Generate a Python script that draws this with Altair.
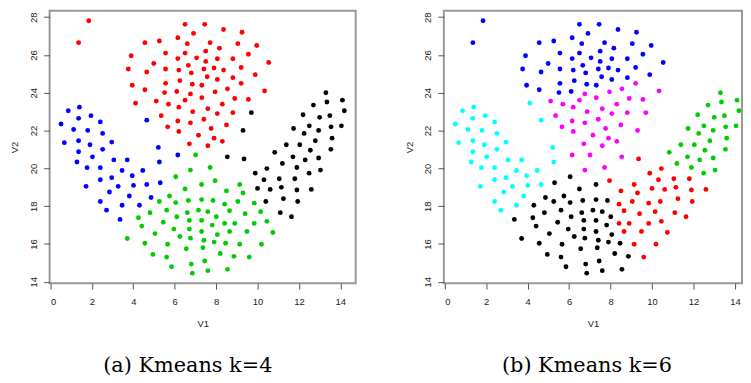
import altair as alt
import pandas as pd

# k-means (k=4) cluster "top" (red); k6 code for each point
top_v1 = [1.85, 1.36, 3.90, 4.56, 5.26, 6.15, 6.50, 5.56, 6.50, 4.99, 6.15, 3.76, 4.65, 5.56, 6.20, 3.95, 5.56, 6.25, 4.56, 5.51, 6.10, 4.11, 5.11, 5.70, 6.50, 6.20, 5.35, 6.15, 5.66, 6.20,
          6.61, 7.45, 6.91, 8.36, 9.25, 7.71, 8.16, 9.05, 9.96, 7.50, 9.56, 7.06, 7.50, 8.06, 8.81, 10.54, 6.66, 6.80, 7.41, 7.90, 8.36, 9.21, 9.89, 6.85, 7.31, 7.57, 8.06, 8.81,
          9.21, 6.76, 7.95, 8.55, 10.34, 7.31, 8.90, 9.56, 7.60, 8.30, 6.87, 8.06, 8.81, 7.41, 6.76, 8.50, 7.76, 7.15, 7.90, 8.30, 6.71, 7.60]
top_v2 = [27.81, 26.65, 25.96, 26.65, 26.74, 26.91, 27.62, 26.10, 26.10, 25.55, 25.81, 25.26, 25.10, 25.26, 25.20, 24.40, 24.50, 24.64, 24.16, 24.01, 24.07, 23.45, 23.56, 23.40, 23.61, 23.24, 22.79, 22.51, 22.20, 21.95,
          26.60, 27.62, 27.14, 27.35, 27.20, 26.65, 26.36, 26.60, 26.50, 26.20, 26.04, 25.85, 25.66, 25.80, 25.80, 25.60, 25.45, 25.05, 25.26, 25.31, 25.20, 25.34, 24.96, 24.45, 24.40, 24.85, 24.70, 24.80,
          24.50, 23.94, 24.05, 24.21, 24.10, 23.74, 23.70, 23.65, 23.16, 23.40, 23.00, 22.90, 22.95, 22.60, 22.41, 22.30, 22.11, 21.76, 21.60, 21.43, 21.30, 21.20]
top_k6 = [1, 1, 1, 1, 1, 1, 1, 1, 1, 1, 1, 1, 1, 1, 1, 1, 1, 1, 1, 1, 1, 3, 2, 2, 2, 2, 2, 2, 2, 2,
          1, 1, 1, 1, 1, 1, 1, 1, 1, 1, 1, 1, 1, 1, 1, 1, 1, 1, 1, 1, 1, 1, 1, 1, 1, 1, 1, 1,
          2, 2, 2, 2, 2, 2, 2, 2, 2, 2, 2, 2, 2, 2, 2, 2, 2, 2, 2, 2, 2, 2]

# cluster "left arm" (blue)
left_v1 = [0.51, 0.86, 1.40, 1.36, 1.96, 1.12, 1.80, 2.41, 0.67, 1.36, 1.91, 2.52, 2.96, 1.36, 2.52, 2.03, 4.65, 5.21, 6.15, 1.28, 1.77, 2.41, 3.06, 3.71, 5.26,
           3.46, 4.46, 2.41, 2.96, 3.95, 1.72, 3.27, 4.01, 4.65, 5.30, 2.85, 3.81, 4.86, 2.41, 3.46, 4.30, 2.71, 3.36]
left_v2 = [22.35, 23.05, 23.24, 22.65, 22.79, 22.06, 22.01, 22.46, 21.36, 21.46, 21.25, 21.85, 21.39, 20.88, 21.01, 20.61, 22.55, 21.11, 20.71, 20.34, 20.04, 20.04, 20.45, 20.45, 20.34,
           19.89, 19.89, 19.40, 19.51, 19.61, 19.05, 19.05, 19.10, 19.15, 19.24, 18.75, 18.54, 18.46, 18.25, 18.05, 18.05, 17.79, 17.30]
left_k6 = [3, 3, 3, 3, 3, 3, 3, 3, 3, 3, 3, 3, 3, 3, 3, 3, 3, 3, 2, 3, 3, 3, 3, 3, 3,
           3, 3, 3, 3, 3, 3, 3, 3, 3, 4, 3, 3, 4, 3, 3, 4, 3, 4]

# cluster "bottom" (green)
bottom_v1 = [6.05, 6.50, 5.75, 5.26, 6.05, 4.81, 5.61, 6.10, 4.25, 5.45, 4.41, 5.96, 5.05, 6.25, 3.71, 4.56, 5.66, 4.95, 5.61, 5.85,
             7.01, 6.76, 7.71, 7.30, 7.95, 9.14, 8.50, 9.30, 6.66, 7.30, 7.85, 8.41, 9.05, 9.84, 6.61, 7.15, 7.60, 8.65, 9.40, 10.15,
             6.71, 7.30, 8.01, 8.41, 8.90, 9.84, 10.45, 6.71, 7.30, 7.81, 8.65, 9.49, 10.74, 6.76, 7.41, 8.06, 7.90, 8.46, 9.14, 10.19,
             6.56, 7.36, 8.20, 8.86, 9.60, 6.80, 7.45, 6.85, 7.60, 8.55]
bottom_v2 = [19.56, 18.91, 18.54, 18.25, 18.19, 17.66, 17.79, 17.44, 17.39, 17.15, 16.95, 16.79, 16.55, 16.40, 16.29, 16.04, 15.99, 15.45, 15.31, 14.80,
             20.71, 19.91, 20.05, 19.15, 19.35, 19.15, 18.81, 18.70, 18.30, 18.35, 18.30, 18.11, 18.25, 18.16, 17.66, 17.79, 17.71, 17.76, 17.60, 17.71,
             17.25, 17.25, 17.44, 17.09, 17.09, 17.09, 17.20, 16.79, 16.66, 17.00, 16.66, 16.66, 16.61, 16.31, 16.20, 16.50, 16.10, 16.04, 15.99, 15.99,
             15.75, 15.80, 15.50, 15.35, 15.31, 14.94, 15.10, 14.46, 14.59, 14.66]
bottom_k6 = [4, 4, 4, 4, 4, 4, 4, 4, 4, 4, 4, 4, 4, 4, 4, 4, 4, 4, 4, 4,
             2, 2, 2, 4, 5, 5, 5, 5, 4, 4, 4, 5, 5, 5, 4, 4, 4, 5, 5, 5,
             4, 4, 4, 5, 5, 5, 5, 4, 4, 4, 5, 5, 5, 4, 4, 4, 4, 4, 5, 5,
             4, 4, 4, 4, 5, 4, 4, 4, 4, 4]

# cluster "right arm" (black)
right_v1 = [8.54, 9.35, 10.83, 11.39, 12.04, 12.79, 12.55, 13.54, 11.71, 12.30, 12.95, 11.20, 11.90, 13.04, 9.89, 10.45, 12.49, 10.31, 11.05, 11.80,
            10.00, 10.61, 11.15, 11.90, 12.60, 10.40, 11.25, 11.94, 11.10, 11.64, 13.30, 13.35, 14.10, 14.19, 12.70, 12.20, 13.00, 13.49,
            9.70, 11.74, 12.50, 12.95, 13.55, 14.05, 9.30, 12.25, 13.60]
right_v2 = [20.61, 20.50, 20.85, 21.25, 21.25, 21.46, 20.96, 21.01, 20.61, 20.45, 20.55, 20.26, 20.05, 19.91, 19.75, 19.99, 19.75, 19.40, 19.45, 19.45,
            18.94, 18.89, 19.00, 18.86, 18.89, 18.25, 18.40, 18.25, 17.66, 17.44, 24.00, 23.51, 23.61, 23.05, 23.35, 22.84, 22.70, 22.79,
            22.95, 22.11, 22.25, 22.01, 22.20, 22.25, 22.01, 21.85, 21.60]
right_k6 = [2, 5, 6, 6, 6, 6, 6, 6, 6, 6, 6, 6, 6, 6, 5, 5, 6, 5, 5, 5,
            5, 5, 5, 5, 5, 5, 5, 5, 5, 5, 6, 6, 6, 6, 6, 6, 6, 6,
            2, 6, 6, 6, 6, 6, 2, 6, 6]

x_ticks = [0, 2, 4, 6, 8, 10, 12, 14]
y_ticks = [14, 16, 18, 20, 22, 24, 26, 28]
k4_colors = ["#FF0000", "#0000FF", "#00CD00", "#000000"]
k6_colors = ["#0000FF", "#FF00FF", "#00FFFF", "#000000", "#FF0000", "#00CD00"]
captions = ["(a) Kmeans k=4", "(b) Kmeans k=6"]

frames = []
for k4, (v1, v2, k6) in enumerate([(top_v1, top_v2, top_k6), (left_v1, left_v2, left_k6),
                                   (bottom_v1, bottom_v2, bottom_k6), (right_v1, right_v2, right_k6)], start=1):
    frames.append(pd.DataFrame({"V1": v1, "V2": v2, "k4": str(k4), "k6": [str(c) for c in k6]}))
df = pd.concat(frames, ignore_index=True)

Y_DOM = [13.93, 28.34]


def panel(field, colors, width, xdom, caption, dx):
    return alt.Chart(df).mark_circle(size=24, opacity=1).encode(
        x=alt.X("V1:Q", scale=alt.Scale(domain=xdom, nice=False, zero=False),
                axis=alt.Axis(values=x_ticks, title="V1", format="d")),
        y=alt.Y("V2:Q", scale=alt.Scale(domain=Y_DOM, nice=False, zero=False),
                axis=alt.Axis(values=y_ticks, title="V2", format="d", labelAngle=270,
                              labelAlign="center", labelBaseline="bottom")),
        color=alt.Color(f"{field}:N",
                        scale=alt.Scale(domain=[str(i + 1) for i in range(len(colors))], range=colors),
                        legend=None),
    ).properties(
        width=width, height=275,
        title=alt.TitleParams(caption, orient="bottom", anchor="middle", font="DejaVu Serif",
                              fontSize=21, fontWeight="normal", color="#000000", dx=dx, offset=28),
    )


left = panel("k4", k4_colors, 309, [-0.04, 14.74], captions[0], -15)
right = panel("k6", k6_colors, 301, [-0.04, 14.34], captions[1], -6)

chart = alt.hconcat(left, right, spacing=46).resolve_scale(color="independent").properties(
    padding={"left": 0, "top": 0, "right": 0, "bottom": 0}
).configure_view(
    stroke="#999999", strokeWidth=2
).configure_axis(
    domain=False, grid=False,
    tickColor="#555555", tickSize=6, tickWidth=1,
    labelFont="Liberation Sans", labelFontSize=9.5, labelColor="#222222", labelPadding=5,
    titleFont="Liberation Sans", titleFontSize=9.5, titleFontWeight="normal", titleColor="#222222",
).configure_axisX(
    labelPadding=8, titlePadding=12
).configure_axisY(
    titlePadding=9
)

chart.save("out.html", embed_options={"renderer": "svg", "actions": False})
